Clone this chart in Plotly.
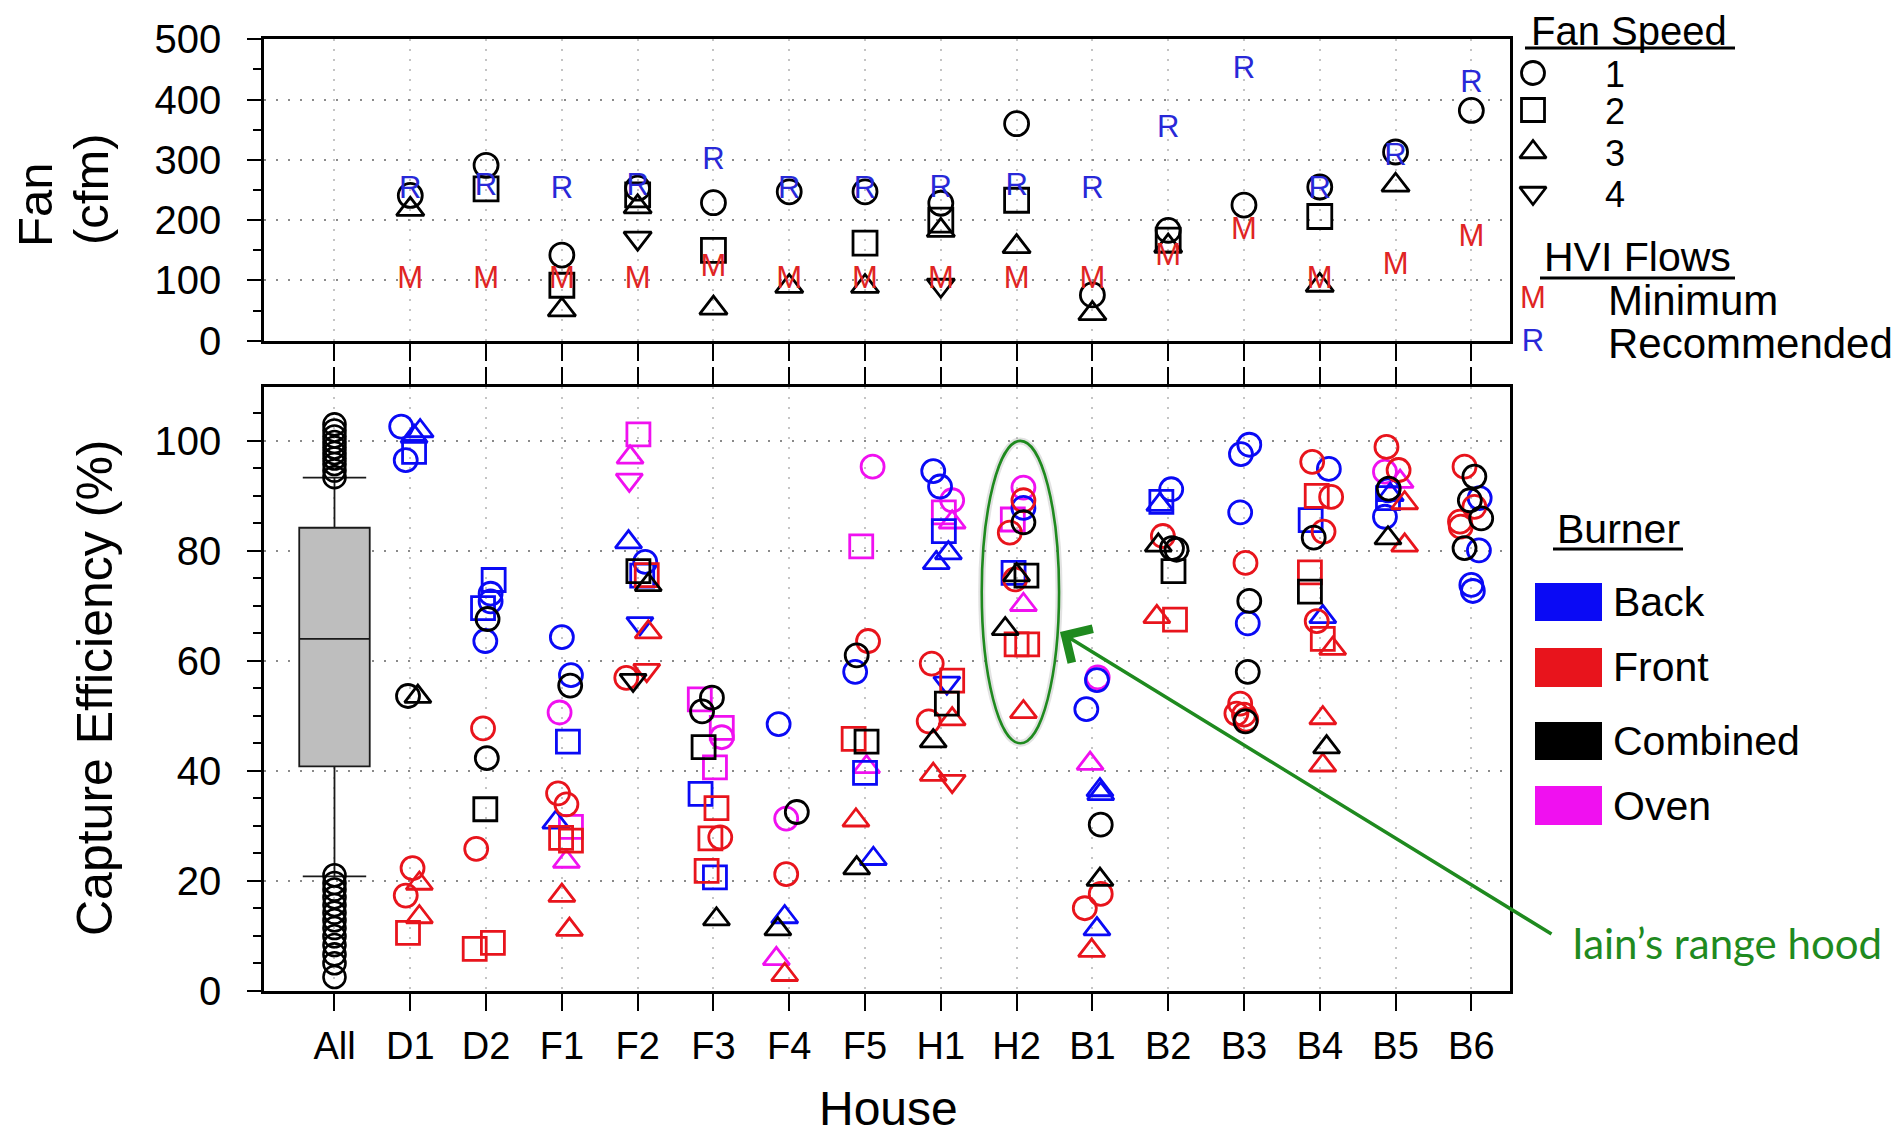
import plotly.graph_objects as go

W, H = 1903, 1136
OFF = 8  # page offset of the figure inside the browser page

# ---------------- data ----------------
houses = ["All", "D1", "D2", "F1", "F2", "F3", "F4", "F5", "H1", "H2",
          "B1", "B2", "B3", "B4", "B5", "B6"]

# top panel: measured fan flow (cfm) per fan speed
fan_speed1 = [("D1", 241), ("D2", 291), ("F1", 142), ("F2", 253), ("F3", 229),
              ("F4", 247), ("F5", 247), ("H1", 228), ("H2", 360), ("B1", 76),
              ("B2", 183), ("B3", 225), ("B4", 255), ("B5", 313), ("B6", 382)]
fan_speed2 = [("D2", 252), ("F1", 92), ("F2", 242), ("F3", 150), ("F5", 162),
              ("H1", 200), ("H2", 233), ("B2", 167), ("B4", 206)]
fan_speed3 = [("D1", 218), ("F1", 51), ("F2", 222), ("F3", 54), ("F4", 90),
              ("F5", 90), ("H1", 183), ("H2", 156), ("B1", 45), ("B2", 157),
              ("B4", 92), ("B5", 258)]
fan_speed4 = [("F2", 170), ("H1", 92)]

# HVI flows (cfm)
hvi_houses = ["D1", "D2", "F1", "F2", "F3", "F4", "F5", "H1", "H2", "B1",
              "B2", "B3", "B4", "B5", "B6"]
hvi_minimum = [100, 100, 100, 100, 120, 100, 100, 100, 100, 100, 139, 181, 100, 123, 170]
hvi_recommended = [250, 255, 250, 255, 298, 250, 250, 252, 255, 250, 350, 449, 250, 305, 425]

# bottom panel: capture efficiency (%) -> (house, fan speed, value, jitter)
back = [
    ("D1", 1, 102.6, -0.12), ("D1", 1, 96.5, -0.06), ("D1", 3, 101.8, 0.13),
    ("D1", 3, 100.8, 0.05), ("D1", 2, 98.0, 0.05),
    ("D2", 2, 74.7, 0.10), ("D2", 1, 72.2, 0.06), ("D2", 1, 70.8, 0.06),
    ("D2", 2, 69.6, -0.04), ("D2", 1, 63.6, -0.01),
    ("F1", 1, 64.3, 0.0), ("F1", 1, 57.4, 0.12), ("F1", 2, 45.3, 0.08), ("F1", 3, 30.6, -0.08),
    ("F2", 3, 81.6, -0.12), ("F2", 1, 78.0, 0.10), ("F2", 2, 75.5, 0.06), ("F2", 4, 66.8, 0.03),
    ("F3", 2, 35.8, -0.17), ("F3", 2, 20.6, 0.02),
    ("F4", 1, 48.5, -0.14), ("F4", 3, 13.4, -0.06),
    ("F5", 1, 58.0, -0.13), ("F5", 2, 39.6, 0.0), ("F5", 3, 24.0, 0.11),
    ("H1", 1, 94.5, -0.10), ("H1", 1, 91.7, -0.01), ("H1", 2, 83.6, 0.04),
    ("H1", 3, 79.6, 0.10), ("H1", 3, 77.8, -0.06), ("H1", 4, 56.0, 0.08),
    ("H2", 1, 87.8, 0.09), ("H2", 2, 76.0, -0.04),
    ("B1", 1, 56.5, 0.06), ("B1", 1, 51.2, -0.08), ("B1", 3, 36.5, 0.10),
    ("B1", 3, 35.8, 0.11), ("B1", 3, 11.2, 0.06),
    ("B2", 1, 91.2, 0.04), ("B2", 2, 88.9, -0.09), ("B2", 3, 88.4, -0.11),
    ("B3", 1, 99.3, 0.07), ("B3", 1, 97.6, -0.04), ("B3", 1, 87.0, -0.05), ("B3", 1, 66.8, 0.05),
    ("B4", 1, 94.9, 0.12), ("B4", 2, 85.6, -0.12), ("B4", 3, 68.0, 0.04),
    ("B5", 3, 90.2, -0.07), ("B5", 2, 89.6, -0.10), ("B5", 1, 91.0, -0.10), ("B5", 1, 86.2, -0.14),
    ("B6", 1, 89.6, 0.11), ("B6", 1, 80.1, 0.10), ("B6", 1, 73.8, 0.0), ("B6", 1, 72.7, 0.02),
]
front = [
    ("D1", 1, 22.3, 0.03), ("D1", 3, 19.5, 0.12), ("D1", 1, 17.3, -0.06),
    ("D1", 3, 13.4, 0.12), ("D1", 2, 10.5, -0.03),
    ("D2", 1, 47.7, -0.04), ("D2", 1, 25.8, -0.13), ("D2", 2, 8.7, 0.09), ("D2", 2, 7.6, -0.15),
    ("F1", 1, 35.9, -0.05), ("F1", 1, 33.9, 0.06), ("F1", 2, 27.8, -0.01),
    ("F1", 2, 27.3, 0.12), ("F1", 3, 17.3, 0.0), ("F1", 3, 11.1, 0.10),
    ("F2", 2, 75.6, 0.12), ("F2", 3, 65.2, 0.14), ("F2", 4, 58.3, 0.12), ("F2", 1, 56.9, -0.15),
    ("F3", 2, 33.2, 0.04), ("F3", 2, 27.7, -0.04), ("F3", 1, 27.9, 0.09), ("F3", 2, 21.8, -0.09),
    ("F4", 1, 21.2, -0.04), ("F4", 3, 2.9, -0.06),
    ("F5", 1, 63.6, 0.04), ("F5", 2, 45.8, -0.15), ("F5", 3, 31.0, -0.12),
    ("H1", 1, 59.5, -0.12), ("H1", 2, 56.4, 0.15), ("H1", 1, 49.0, -0.16),
    ("H1", 3, 49.4, 0.15), ("H1", 3, 39.3, -0.10), ("H1", 4, 38.1, 0.15),
    ("H2", 1, 89.2, 0.09), ("H2", 1, 83.3, -0.09), ("H2", 1, 74.8, -0.02),
    ("H2", 2, 63.0, 0.0), ("H2", 2, 63.0, 0.14), ("H2", 3, 50.7, 0.09),
    ("B1", 1, 17.6, 0.11), ("B1", 1, 15.0, -0.10), ("B1", 3, 7.3, -0.01),
    ("B2", 1, 82.7, -0.07), ("B2", 3, 68.0, -0.15), ("B2", 2, 67.5, 0.09),
    ("B3", 1, 77.8, 0.02), ("B3", 1, 52.2, -0.05), ("B3", 1, 50.4, -0.10),
    ("B3", 1, 50.2, 0.0), ("B3", 1, 49.3, 0.03),
    ("B4", 1, 96.2, -0.10), ("B4", 2, 90.0, -0.04), ("B4", 1, 89.8, 0.15),
    ("B4", 1, 83.5, 0.05), ("B4", 2, 76.1, -0.13), ("B4", 1, 67.2, -0.04),
    ("B4", 2, 64.0, 0.04), ("B4", 3, 62.2, 0.17), ("B4", 3, 49.6, 0.04), ("B4", 3, 41.0, 0.04),
    ("B5", 1, 98.9, -0.12), ("B5", 1, 94.7, 0.04), ("B5", 3, 88.7, 0.12), ("B5", 3, 81.0, 0.12),
    ("B6", 1, 95.3, -0.09), ("B6", 1, 88.0, 0.04), ("B6", 1, 85.3, -0.15), ("B6", 1, 84.4, -0.14),
]
combined = [
    ("D1", 1, 53.6, -0.03), ("D1", 3, 53.5, 0.10),
    ("D2", 1, 67.6, 0.02), ("D2", 1, 42.3, 0.01), ("D2", 2, 33.0, -0.01),
    ("F1", 1, 55.5, 0.11),
    ("F2", 2, 76.3, 0.01), ("F2", 3, 73.8, 0.14), ("F2", 4, 56.5, -0.06),
    ("F3", 1, 53.3, -0.02), ("F3", 1, 50.8, -0.15), ("F3", 2, 44.3, -0.13), ("F3", 3, 13.0, 0.04),
    ("F4", 1, 32.5, 0.10), ("F4", 3, 11.2, -0.15),
    ("F5", 1, 61.0, -0.11), ("F5", 2, 45.3, 0.02), ("F5", 3, 22.3, -0.11),
    ("H1", 2, 52.2, 0.08), ("H1", 3, 45.4, -0.10),
    ("H2", 1, 85.2, 0.09), ("H2", 2, 75.5, 0.13), ("H2", 3, 75.6, 0.0), ("H2", 3, 65.8, -0.15),
    ("B1", 1, 30.2, 0.11), ("B1", 3, 20.2, 0.10),
    ("B2", 3, 81.0, -0.13), ("B2", 1, 80.2, 0.11), ("B2", 1, 80.5, 0.05), ("B2", 2, 76.3, 0.07),
    ("B3", 1, 70.9, 0.07), ("B3", 1, 58.0, 0.05), ("B3", 1, 49.0, 0.02),
    ("B4", 1, 82.4, -0.08), ("B4", 2, 72.6, -0.13), ("B4", 3, 44.3, 0.09),
    ("B5", 1, 91.3, -0.09), ("B5", 3, 82.3, -0.10),
    ("B6", 1, 93.5, 0.04), ("B6", 1, 89.2, -0.02), ("B6", 1, 85.9, 0.13), ("B6", 1, 80.5, -0.09),
]
oven = [
    ("F1", 1, 50.6, -0.03), ("F1", 2, 29.8, 0.12), ("F1", 3, 23.5, 0.06),
    ("F2", 2, 101.2, 0.01), ("F2", 3, 97.0, -0.10), ("F2", 4, 92.9, -0.11),
    ("F3", 2, 53.0, -0.18), ("F3", 2, 47.8, 0.11), ("F3", 1, 46.1, 0.11), ("F3", 2, 40.6, 0.02),
    ("F4", 1, 31.3, -0.04), ("F4", 3, 5.8, -0.17),
    ("F5", 1, 95.3, 0.10), ("F5", 2, 80.8, -0.05), ("F5", 3, 40.7, 0.02),
    ("H1", 1, 89.2, 0.15), ("H1", 2, 87.0, 0.04), ("H1", 3, 85.2, 0.15),
    ("H2", 1, 91.5, 0.09), ("H2", 2, 85.7, -0.05), ("H2", 3, 70.2, 0.09),
    ("B1", 1, 57.0, 0.07), ("B1", 3, 41.3, -0.03),
    ("B5", 1, 94.4, -0.14), ("B5", 3, 92.6, 0.06),
]

# "All" box summary (%)
all_q1, all_median, all_q3 = 40.8, 64.0, 84.2
all_lower_whisker, all_upper_whisker = 20.8, 93.3
all_high_outliers = [103.0, 101.9, 100.8, 99.8, 98.8, 97.8, 96.8, 95.8, 94.6, 93.4]
all_low_outliers = [21.0, 19.6, 18.4, 17.0, 15.6, 14.2, 12.8, 11.4, 9.9, 8.3, 6.6, 5.0, 2.5]

speed_labels = ["1", "2", "3", "4"]
burner_labels = ["Back", "Front", "Combined", "Oven"]

# ---------------- style ----------------
FONT = "Liberation Sans, Arial, sans-serif"
SYM = {1: "circle-open", 2: "square-open", 3: "triangle-up-open", 4: "triangle-down-open"}
COL = {"Back": "#0a0af5", "Front": "#e8141c", "Combined": "#000000", "Oven": "#f010f0"}
M_COL, R_COL = "#e02424", "#2828d8"
GREEN = "#1f8a1f"

XR = [-0.93, 15.51]
XDOM = [(264 - OFF) / W, (1510 - OFF) / W]


def py(y):
    # page pixel (from top) -> paper fraction
    return 1 - (y - OFF) / H


def hx(h):
    return houses.index(h)


fig = go.Figure()

# ---- top panel ----
for s, pts in [(1, fan_speed1), (2, fan_speed2), (3, fan_speed3), (4, fan_speed4)]:
    fig.add_trace(go.Scatter(
        x=[hx(h) for h, _ in pts], y=[v for _, v in pts], mode="markers",
        marker=dict(symbol=SYM[s], size=24, color="black", line=dict(color="black", width=2.8)),
        xaxis="x", yaxis="y", showlegend=False, hoverinfo="skip"))
fig.add_trace(go.Scatter(
    x=[hx(h) for h in hvi_houses], y=hvi_minimum, mode="text", text=["M"] * len(hvi_houses),
    textfont=dict(color=M_COL, size=31, family=FONT), xaxis="x", yaxis="y",
    showlegend=False, hoverinfo="skip"))
fig.add_trace(go.Scatter(
    x=[hx(h) for h in hvi_houses], y=hvi_recommended, mode="text", text=["R"] * len(hvi_houses),
    textfont=dict(color=R_COL, size=31, family=FONT), xaxis="x", yaxis="y",
    showlegend=False, hoverinfo="skip"))

# ---- bottom panel ----
fig.add_trace(go.Box(
    x=[0], q1=[all_q1], median=[all_median], q3=[all_q3],
    lowerfence=[all_lower_whisker], upperfence=[all_upper_whisker],
    width=0.93, whiskerwidth=0.9, fillcolor="#bebebe",
    line=dict(color="#1a1a1a", width=1.8), boxpoints=False,
    xaxis="x2", yaxis="y2", showlegend=False, hoverinfo="skip"))
outl = all_high_outliers + all_low_outliers
fig.add_trace(go.Scatter(
    x=[0] * len(outl), y=outl, mode="markers",
    marker=dict(symbol="circle-open", size=22, color="black", line=dict(color="black", width=2.6)),
    xaxis="x2", yaxis="y2", showlegend=False, hoverinfo="skip"))

for name, pts in [("Oven", oven), ("Back", back), ("Front", front), ("Combined", combined)]:
    for s in (1, 2, 3, 4):
        sel = [p for p in pts if p[1] == s]
        if not sel:
            continue
        fig.add_trace(go.Scatter(
            x=[hx(h) + d for h, _, _, d in sel], y=[v for _, _, v, _ in sel], mode="markers",
            marker=dict(symbol=SYM[s], size=23, color=COL[name], line=dict(color=COL[name], width=2.8)),
            xaxis="x2", yaxis="y2", showlegend=False, hoverinfo="skip"))

# ---- legend glyphs on a page-pixel overlay axis ----
leg_sym_y = [73, 110, 152, 193]
for i, s in enumerate((1, 2, 3, 4)):
    fig.add_trace(go.Scatter(
        x=[1533], y=[leg_sym_y[i]], mode="markers",
        marker=dict(symbol=SYM[s], size=23, color="black", line=dict(color="black", width=2.8)),
        xaxis="x3", yaxis="y3", showlegend=False, hoverinfo="skip"))
fig.add_trace(go.Scatter(
    x=[1533, 1533], y=[300, 343], mode="text", text=["M", "R"],
    textfont=dict(color=[M_COL, R_COL], size=31, family=FONT),
    xaxis="x3", yaxis="y3", showlegend=False, hoverinfo="skip"))

ann = []
shapes = []


def txt(x, y, t, size=41, anchor="center", color="black", family=FONT, angle=0):
    ann.append(dict(x=x, y=y, xref="x3", yref="y3", text=t, showarrow=False,
                    xanchor=anchor, yanchor="middle", textangle=angle,
                    font=dict(size=size, color=color, family=family)))


def uline(x0, x1, y):
    shapes.append(dict(type="line", xref="x3", yref="y3", x0=x0, x1=x1, y0=y, y1=y,
                       line=dict(color="black", width=3)))


txt(1629, 31, "Fan Speed", size=40)
uline(1525, 1735, 48)
for i, lab in enumerate(speed_labels):
    txt(1615, leg_sym_y[i] + 1, lab, size=36)
txt(1637, 257, "HVI Flows")
uline(1540, 1735, 278)
txt(1606, 300, "Minimum", anchor="left", size=42)
txt(1606, 343, "Recommended", anchor="left", size=42)

txt(1618, 529, "Burner")
uline(1553, 1683, 549)
rect_y = [(583, 621), (648, 687), (722, 760), (786, 825)]
text_y = [602, 667, 741, 806]
for lab, (y0, y1), ty in zip(burner_labels, rect_y, text_y):
    shapes.append(dict(type="rect", xref="x3", yref="y3", x0=1535, x1=1602, y0=y0, y1=y1,
                       fillcolor=COL[lab], line=dict(width=0)))
    txt(1611, ty, lab, anchor="left")

# axis titles
txt(35, 205, "Fan", size=49, angle=-90)
txt(91, 189, "(cfm)", size=49, angle=-90)
txt(95, 688, "Capture Efficiency (%)", size=50, angle=-90)
txt(888, 1108, "House", size=48)

# annotation: ellipse + arrow + label
shapes.append(dict(type="circle", xref="x2", yref="y2", x0=8.54, x1=9.56, y0=45.0, y1=100.0,
                   line=dict(color="rgba(140,140,140,0.25)", width=7), layer="above"))
shapes.append(dict(type="circle", xref="x2", yref="y2", x0=8.54, x1=9.56, y0=45.0, y1=100.0,
                   line=dict(color=GREEN, width=2.6), layer="above"))
ann.append(dict(x=1060, y=632, xref="x3", yref="y3", ax=1553, ay=935, axref="x3", ayref="y3",
                text="", showarrow=True, arrowhead=4, arrowsize=2.2, arrowwidth=3.5,
                arrowcolor=GREEN, standoff=0, startstandoff=0))
txt(1570, 943, "Iain’s range hood", size=42, anchor="left", color=GREEN,
    family="Lato, Open Sans, sans-serif")

axis_common = dict(showline=True, linewidth=2.6, linecolor="black", ticks="outside",
                   tickwidth=2, tickcolor="black", zeroline=False, automargin=False)

fig.update_layout(
    width=W, height=H, autosize=False,
    margin=dict(l=0, r=0, t=0, b=0, pad=0, autoexpand=False),
    paper_bgcolor="white", plot_bgcolor="rgba(0,0,0,0)",
    font=dict(family=FONT, color="black"),
    showlegend=False,
    xaxis=dict(domain=XDOM, range=XR, anchor="y", tickmode="array", tickvals=list(range(16)),
               showticklabels=False, ticklen=17, mirror=True, showgrid=True,
               gridcolor="#c4c4c4", griddash="2px,8px", gridwidth=1.5, **axis_common),
    yaxis=dict(domain=[py(340.7), py(39.3)], range=[0, 500], anchor="x", tick0=0, dtick=100,
               ticklen=14, mirror=True, showgrid=True, gridcolor="#8a8a8a",
               griddash="2px,10px", gridwidth=2, tickfont=dict(size=40), ticklabelstandoff=18,
               minor=dict(tick0=0, dtick=50, ticks="outside", ticklen=8, tickwidth=2,
                          tickcolor="black", showgrid=False),
               **axis_common),
    xaxis2=dict(domain=XDOM, range=XR, anchor="y2", tickmode="array", tickvals=list(range(16)),
                ticktext=houses, tickfont=dict(size=38), ticklen=17, mirror="ticks",
                ticklabelstandoff=3, showgrid=True, gridcolor="#c4c4c4",
                griddash="2px,8px", gridwidth=1.5, **axis_common),
    yaxis2=dict(domain=[py(990.7), py(387)], range=[0, 109.8], anchor="x2", tick0=0, dtick=20,
                ticklen=14, mirror=True, showgrid=True, gridcolor="#8a8a8a",
                griddash="2px,10px", gridwidth=2, tickfont=dict(size=40), ticklabelstandoff=18,
                minor=dict(tick0=0, dtick=5, ticks="outside", ticklen=8, tickwidth=2,
                           tickcolor="black", showgrid=False),
                **axis_common),
    xaxis3=dict(domain=[0, 1], range=[OFF, W + OFF], anchor="y3", visible=False,
                fixedrange=True, automargin=False),
    yaxis3=dict(domain=[0, 1], range=[H + OFF, OFF], anchor="x3", visible=False,
                fixedrange=True, automargin=False),
    annotations=ann, shapes=shapes,
)

fig.write_html("out.html")
